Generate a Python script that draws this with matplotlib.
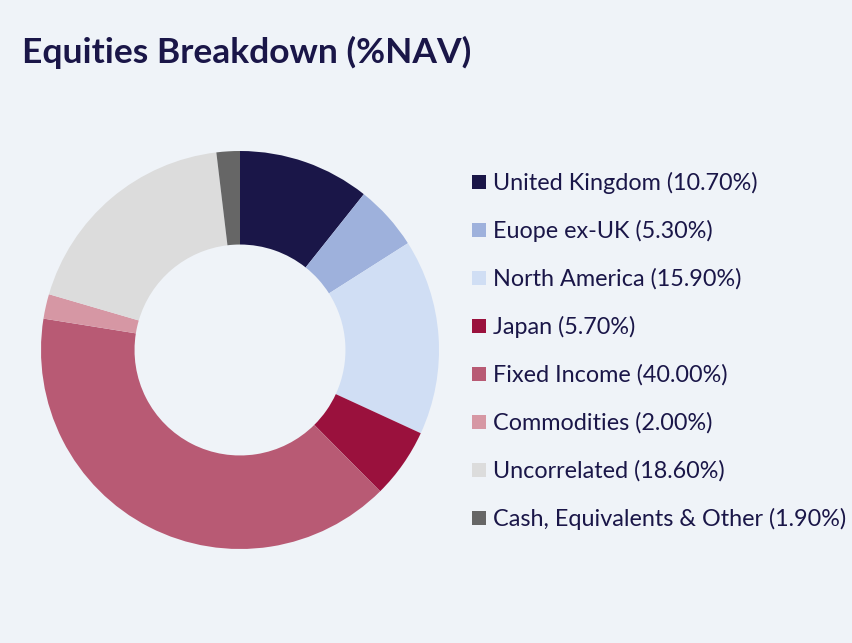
import matplotlib.pyplot as plt
from matplotlib.patches import Rectangle

labels = ["United Kingdom", "Euope ex-UK", "North America", "Japan",
          "Fixed Income", "Commodities", "Uncorrelated", "Cash, Equivalents & Other"]
values = [10.70, 5.30, 15.90, 5.70, 40.00, 2.00, 18.60, 1.90]
colors = ["#1a1648", "#9eb1dc", "#d0def4", "#9a113d",
          "#b85a74", "#d697a4", "#dcdcdc", "#666666"]

bg = "#eff3f8"
ink = "#1a1648"
W, H = 853, 643

fig = plt.figure(figsize=(W / 100, H / 100), dpi=100, facecolor=bg)

# donut
cx, cy, r = 240, 350, 199
ax = fig.add_axes([(cx - r) / W, (H - cy - r) / H, 2 * r / W, 2 * r / H])
ax.set_facecolor(bg)
ax.pie(values, colors=colors, startangle=90, counterclock=False,
       wedgeprops=dict(width=0.47, linewidth=0))
ax.set_xlim(-1, 1)
ax.set_ylim(-1, 1)
ax.set_aspect("equal")
ax.axis("off")

fig.text(22 / W, 1 - 52 / H, "Equities Breakdown (%NAV)", fontsize=25.5,
         fontweight="bold", color=ink, family="Lato", va="center", ha="left")

# legend drawn by hand
for i, (lab, v, c) in enumerate(zip(labels, values, colors)):
    y = 182 + 48 * i
    fig.patches.append(Rectangle((472 / W, 1 - (y + 7) / H), 14 / W, 14 / H,
                                 transform=fig.transFigure, facecolor=c,
                                 edgecolor="none"))
    fig.text(493 / W, 1 - (y + 1) / H, f"{lab} ({v:.2f}%)", fontsize=16.8,
             color=ink, family="Lato", va="center", ha="left")

fig.savefig("out.png", dpi=100, facecolor=bg)
